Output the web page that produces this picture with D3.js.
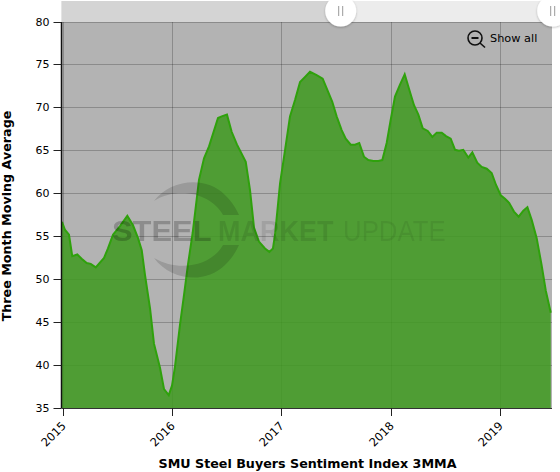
<!DOCTYPE html>
<html><head><meta charset="utf-8">
<script src="https://cdnjs.cloudflare.com/ajax/libs/d3/7.8.5/d3.min.js"></script>
<style>html,body{margin:0;padding:0;background:#fff}svg{display:block}text{font-family:"DejaVu Sans",sans-serif}</style>
</head><body><svg id="c" width="560" height="472"></svg>
<script>
const chartTitle = "SMU Steel Buyers Sentiment Index 3MMA";
const yTitle = "Three Month Moving Average";
const yearTicks = [2015, 2016, 2017, 2018, 2019];
const valueTicks = [35, 40, 45, 50, 55, 60, 65, 70, 75, 80];
const periods = [2014.988,2015.016,2015.052,2015.082,2015.128,2015.168,2015.214,2015.251,2015.297,2015.373,2015.409,2015.455,2015.519,2015.586,2015.638,2015.684,2015.718,2015.748,2015.794,2015.83,2015.885,2015.922,2015.965,2015.995,
2016.022,2016.068,2016.105,2016.141,2016.184,2016.242,2016.288,2016.334,2016.416,2016.45,2016.498,2016.541,2016.59,2016.67,2016.709,2016.746,2016.791,2016.846,2016.886,2016.919,2016.938,2016.984,
2017.03,2017.075,2017.121,2017.167,2017.213,2017.258,2017.319,2017.374,2017.462,2017.502,2017.548,2017.585,2017.631,2017.67,2017.709,2017.752,2017.792,2017.838,2017.883,2017.92,2017.96,2017.997,
2018.036,2018.082,2018.125,2018.167,2018.21,2018.25,2018.29,2018.336,2018.378,2018.418,2018.464,2018.503,2018.546,2018.586,2018.622,2018.661,2018.707,2018.744,2018.789,2018.83,2018.876,2018.921,2018.961,2019.004,
2019.043,2019.082,2019.125,2019.168,2019.211,2019.248,2019.288,2019.333,2019.379,2019.416,2019.462];
const sentiment = [56.7,55.75,55.2,52.7,52.9,52.4,51.9,51.8,51.4,52.5,53.6,55.2,56.2,57.4,56.3,54.8,53.4,50.5,46.6,42.5,39.7,37.2,36.5,37.6,
39.8,44.7,48.2,51.7,55.4,61.6,64.1,65.5,68.8,69.0,69.2,67.2,65.7,63.7,60.4,56,54.4,53.6,53.2,53.6,55.2,61.2,
65.1,69,70.9,73,73.6,74.2,73.8,73.4,70.7,69,67.4,66.4,65.7,65.7,65.9,64.3,63.9,63.8,63.8,63.9,65.9,68.6,
71.3,72.7,73.9,72.1,70.3,69.2,67.6,67.3,66.6,67.1,67.1,66.7,66.4,65.1,65,65.1,64.2,64.8,63.6,63.1,62.9,62.4,61,59.8,
59.4,58.9,57.9,57.3,58,58.4,56.9,54.8,51.6,48.7,46.1];

const L = 61.5, R = 552, T = 22, B = 408;
const x = d3.scaleLinear().domain([2015, 2019]).range([63.3, 500.3]);
const y = d3.scaleLinear().domain([35, 80]).range([B, T]);
const px = v => Math.floor(v) + .5;
const svg = d3.select("#c");
const rows = periods.map((p, i) => ({p, v: sentiment[i]}));

const defs = svg.append("defs");
const f = defs.append("filter").attr("id", "s").attr("x", "-30%").attr("y", "-30%").attr("width", "160%").attr("height", "160%");
f.append("feDropShadow").attr("dx", 0).attr("dy", 1).attr("stdDeviation", 1.2).attr("flood-color", "#000").attr("flood-opacity", 0.25);
defs.append("filter").attr("id", "b").append("feGaussianBlur").attr("stdDeviation", 0.6);

// scrollbar
svg.append("rect").attr("x", L).attr("y", 1).attr("width", R - L).attr("height", T - 1).attr("fill", "#ececec");
svg.append("rect").attr("x", L).attr("y", 1).attr("width", 341 - L).attr("height", T - 1).attr("fill", "#d4d4d4");

// plot background
svg.append("rect").attr("x", L).attr("y", T).attr("width", R - L).attr("height", B - T).attr("fill", "#b3b3b3");

// grid
const grid = svg.append("g").attr("stroke", "#000").attr("stroke-opacity", 0.22).attr("stroke-width", 1);
valueTicks.forEach(v => grid.append("line").attr("x1", L).attr("x2", R).attr("y1", px(y(v))).attr("y2", px(y(v))));
yearTicks.forEach(t => grid.append("line").attr("x1", px(x(t))).attr("x2", px(x(t))).attr("y1", T).attr("y2", B));

// area and line
const area = d3.area().x(d => x(d.p)).y0(B).y1(d => y(d.v));
const line = d3.line().x(d => x(d.p)).y(d => y(d.v));
svg.append("path").datum(rows).attr("d", area).attr("fill", "#3f9a20").attr("fill-opacity", 0.86);
svg.append("path").datum(rows).attr("d", line).attr("fill", "none").attr("stroke", "#2fa10c").attr("stroke-width", 2);

// watermark
const wm = svg.append("g").attr("pointer-events", "none").attr("filter", "url(#b)");
wm.append("path").attr("d", "M154,201 C170,180 205,175 225,195 C232,202 236,208 239,215 L223,215 C212,195 180,185 154,201 Z").attr("fill", "#000").attr("fill-opacity", 0.14);
wm.append("path").attr("d", "M154,258 C170,280 205,285 225,265 C232,258 236,252 239,245 L223,245 C212,265 180,273 154,258 Z").attr("fill", "#000").attr("fill-opacity", 0.14);
const word = (txt, x0, sx, weight, op) => wm.append("text")
  .attr("transform", `translate(${x0},241) scale(${sx},1)`)
  .attr("font-size", 30).attr("font-weight", weight).style("font-family", "Liberation Sans")
  .attr("fill", "#000").attr("fill-opacity", op).text(txt);
word("STEEL", 112, 1.03, 700, 0.22);
word("MARKET", 218, 0.9, 700, 0.10);
word("UPDATE", 343, 0.86, 400, 0.08);

// axes
const yAxis = d3.axisLeft(y).tickValues(valueTicks).tickSize(8).tickPadding(4);
const yg = svg.append("g").attr("transform", `translate(${L},0)`).call(yAxis);
yg.selectAll(".tick").attr("transform", d => `translate(0,${px(y(d))})`);
yg.select(".domain").attr("stroke", "#111").attr("stroke-width", 1.5).attr("d", `M0,${T}V${B}`);
yg.selectAll("line").attr("stroke", "#222");
yg.selectAll("text").attr("font-size", 11).attr("fill", "#000").style("font-family", "DejaVu Sans");

const xAxis = d3.axisBottom(x).tickValues(yearTicks).tickFormat(d3.format("d")).tickSize(8);
const xg = svg.append("g").attr("transform", `translate(0,${B})`).call(xAxis);
xg.selectAll(".tick").attr("transform", d => `translate(${px(x(d))},0)`);
xg.select(".domain").attr("stroke", "#333").attr("stroke-width", 1).attr("d", `M${L},0.5H${R}`);
xg.selectAll("line").attr("stroke", "#222");
xg.selectAll("text").attr("font-size", 11.5).attr("fill", "#000").style("font-family", "DejaVu Sans")
  .attr("text-anchor", "end").attr("transform", "translate(0,4) rotate(-45)").attr("x", -8).attr("y", 9).attr("dy", "0.32em");

// titles
svg.append("text").attr("x", 307.5).attr("y", 468).attr("text-anchor", "middle").attr("font-size", 12.7).attr("font-weight", 700).attr("fill", "#000").text(chartTitle);
svg.append("text").attr("transform", "translate(11,216) rotate(-90)").attr("text-anchor", "middle").attr("font-size", 12.7).attr("font-weight", 700).attr("fill", "#000").text(yTitle);

// scroller thumbs
[340.7, 552.7].forEach(cx => {
  svg.append("circle").attr("cx", cx).attr("cy", 11).attr("r", 15.5).attr("fill", "#fff").attr("filter", "url(#s)");
  [-2, 2].forEach(d => svg.append("line").attr("x1", cx + d).attr("x2", cx + d).attr("y1", 6).attr("y2", 16).attr("stroke", "#999").attr("stroke-width", 1));
});

// show all control
const z = svg.append("g").attr("fill", "none").attr("stroke", "#111");
z.append("circle").attr("cx", 475).attr("cy", 38).attr("r", 7).attr("stroke-width", 1.6);
z.append("line").attr("x1", 480).attr("y1", 43).attr("x2", 485).attr("y2", 47.5).attr("stroke-width", 1.6);
z.append("line").attr("x1", 471.5).attr("y1", 38).attr("x2", 478.5).attr("y2", 38).attr("stroke-width", 2);
svg.append("text").attr("x", 490).attr("y", 42).attr("font-size", 11.3).attr("fill", "#000").text("Show all");
</script></body></html>
